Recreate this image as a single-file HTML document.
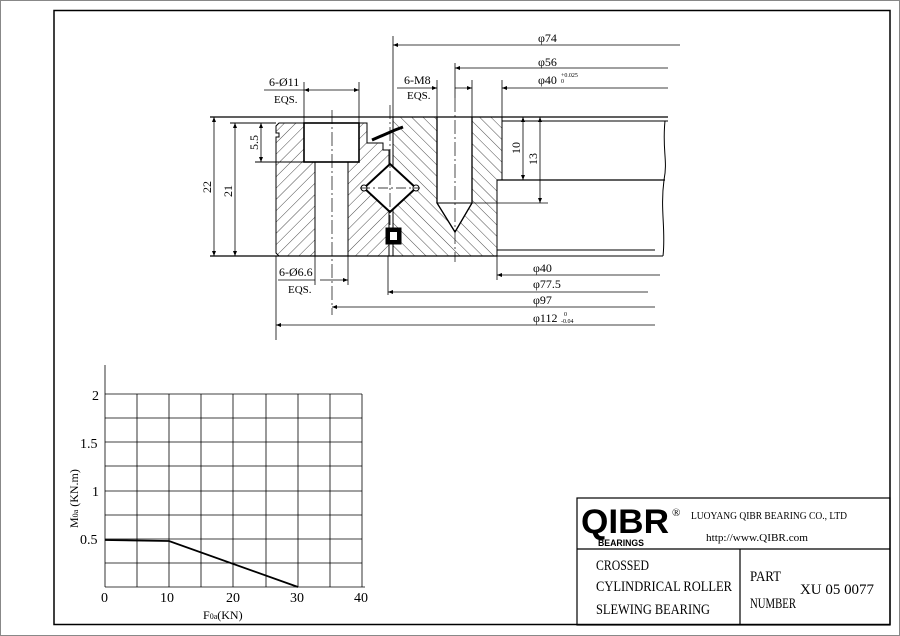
<!DOCTYPE html>
<html><head><meta charset="utf-8"><style>
html,body{margin:0;padding:0;background:#fff}
svg{display:block}
text{fill:#000}
.s{font-family:"Liberation Serif",serif}
.b{font-family:"Liberation Sans",sans-serif;font-weight:bold}
</style></head><body>
<svg width="900" height="636" viewBox="0 0 900 636" xmlns="http://www.w3.org/2000/svg">
<defs>
<pattern id="h1" width="8" height="8" patternUnits="userSpaceOnUse" patternTransform="rotate(45)"><line x1="0" y1="0" x2="0" y2="8" stroke="#000" stroke-width="0.7"/></pattern>
<pattern id="h2" width="8" height="8" patternUnits="userSpaceOnUse" patternTransform="rotate(-45)"><line x1="0" y1="0" x2="0" y2="8" stroke="#000" stroke-width="0.7"/></pattern>
<marker id="a" viewBox="0 0 10 10" refX="10" refY="5" markerWidth="9" markerHeight="5" orient="auto-start-reverse" markerUnits="userSpaceOnUse"><path d="M0,1 L10,5 L0,9 z" fill="#000"/></marker>
</defs>
<rect x="0.5" y="0.5" width="899" height="635" fill="none" stroke="#888"/>
<rect x="54" y="10.5" width="836" height="614" fill="none" stroke="#000" stroke-width="1.5"/>

<g stroke="#000" fill="none" stroke-width="1">
<path d="M279,123 L304,123 L304,162 L315,162 L315,256 L279,256 L276,253 L276,137 L279,137 L279,133 L276,133 L276,126 Z" fill="url(#h1)"/>
<path d="M359,123 L367,123 L367,143 L383,143 L383,150 L389,150 L389,256 L348,256 L348,162 L359,162 Z" fill="url(#h1)"/>
<rect x="304" y="123" width="55" height="39" fill="#fff" stroke-width="1.6"/>
<line x1="315" y1="162" x2="315" y2="256"/><line x1="348" y1="162" x2="348" y2="256"/>
<path d="M393,117 L437,117 L437,203 L455,232 L472,203 L472,117 L502,117 L502,180 L497,180 L497,256 L393,256 Z" fill="url(#h2)"/>
<rect x="437" y="117" width="35" height="86" fill="#fff"/>
<path d="M437,203 L455,232 L472,203 Z" fill="#fff"/>
<path d="M437,117 L437,203 L455,232 L472,203 L472,117" stroke-width="1.3"/>
<line x1="437" y1="203" x2="472" y2="203"/>
<path d="M390,164 L416,188 L390,212 L364,188 Z" fill="#fff" stroke-width="2"/>
<circle cx="364" cy="188" r="3" fill="#fff"/><circle cx="416" cy="188" r="3" fill="#fff"/>
<rect x="386" y="228" width="15" height="16" fill="#000"/>
<rect x="390" y="232" width="7" height="8" fill="#fff" stroke="none"/>
<path d="M372,140 L395,130 L403,127" stroke-width="3"/>
<line x1="502" y1="117" x2="668" y2="117" stroke-width="1.3"/>
<line x1="502" y1="121" x2="668" y2="121"/>
<line x1="497" y1="180" x2="665" y2="180" stroke-width="1.3"/>
<line x1="497" y1="250" x2="655" y2="250"/>
<line x1="497" y1="256" x2="663" y2="256"/>
<path d="M665,121 C662,150 668,160 664,180 C660,210 666,230 663,256"/>
<line x1="210" y1="117" x2="502" y2="117" stroke-width="1.3"/>
<line x1="210" y1="256" x2="497" y2="256" stroke-width="1.3"/>
<line x1="230" y1="123" x2="276" y2="123"/>
<line x1="255" y1="162" x2="304" y2="162"/>
<line x1="332" y1="110" x2="332" y2="315" stroke-dasharray="14,3,2,3" stroke-width="0.7"/>
<line x1="455" y1="98" x2="455" y2="262" stroke-dasharray="14,3,2,3" stroke-width="0.7"/>
<line x1="390" y1="105" x2="390" y2="225" stroke-dasharray="14,3,2,3" stroke-width="0.7"/>
<line x1="360" y1="188" x2="420" y2="188" stroke-dasharray="10,3,2,3" stroke-width="0.7"/>
</g>

<g stroke="#000" stroke-width="0.8" fill="none">
<line x1="393" y1="36" x2="393" y2="117"/>
<line x1="393" y1="45" x2="680" y2="45" marker-start="url(#a)"/>
<line x1="455" y1="63" x2="455" y2="98"/>
<line x1="455" y1="68" x2="668" y2="68" marker-start="url(#a)"/>
<line x1="502" y1="80" x2="502" y2="117"/>
<line x1="502" y1="88" x2="668" y2="88" marker-start="url(#a)"/>
<line x1="437" y1="80" x2="437" y2="117"/><line x1="472" y1="80" x2="472" y2="117"/>
<line x1="397" y1="88" x2="437" y2="88" marker-end="url(#a)"/>
<line x1="472" y1="88" x2="455" y2="88" marker-start="url(#a)"/>
<line x1="304" y1="82" x2="304" y2="123"/><line x1="359" y1="82" x2="359" y2="123"/>
<line x1="264" y1="90" x2="304" y2="90"/>
<line x1="304" y1="90" x2="359" y2="90" marker-start="url(#a)" marker-end="url(#a)"/>
<line x1="497" y1="256" x2="497" y2="280"/>
<line x1="497" y1="275" x2="660" y2="275" marker-start="url(#a)"/>
<line x1="388" y1="256" x2="388" y2="295"/>
<line x1="388" y1="292" x2="648" y2="292" marker-start="url(#a)"/>
<line x1="332" y1="307" x2="655" y2="307" marker-start="url(#a)"/>
<line x1="276" y1="256" x2="276" y2="340"/>
<line x1="276" y1="325" x2="655" y2="325" marker-start="url(#a)"/>
<line x1="315" y1="256" x2="315" y2="285"/><line x1="348" y1="256" x2="348" y2="285"/>
<line x1="278" y1="280" x2="315" y2="280"/>
<line x1="320" y1="280" x2="348" y2="280" marker-end="url(#a)"/>
<line x1="214" y1="117" x2="214" y2="256" marker-start="url(#a)" marker-end="url(#a)"/>
<line x1="235" y1="123" x2="235" y2="256" marker-start="url(#a)" marker-end="url(#a)"/>
<line x1="261" y1="123" x2="261" y2="162" marker-start="url(#a)" marker-end="url(#a)"/>
<line x1="523" y1="117" x2="523" y2="180" marker-start="url(#a)" marker-end="url(#a)"/>
<line x1="540" y1="117" x2="540" y2="203" marker-start="url(#a)" marker-end="url(#a)"/>
<line x1="472" y1="203" x2="548" y2="203"/>
</g>
<g class="s" font-size="12">
<text x="538" y="42">φ74</text>
<text x="538" y="66">φ56</text>
<text x="538" y="84">φ40</text>
<text x="561" y="77" font-size="6">+0.025</text><text x="561" y="83" font-size="6">0</text>
<text x="404" y="84">6-M8</text><text x="407" y="99" font-size="11">EQS.</text>
<text x="269" y="86">6-Ø11</text><text x="274" y="103" font-size="11">EQS.</text>
<text x="533" y="272">φ40</text>
<text x="533" y="288">φ77.5</text>
<text x="533" y="304">φ97</text>
<text x="533" y="322">φ112</text>
<text x="564" y="316" font-size="6">0</text><text x="561" y="323" font-size="6">-0.04</text>
<text x="279" y="276">6-Ø6.6</text><text x="288" y="293" font-size="11">EQS.</text>
<text transform="translate(211,193) rotate(-90)">22</text>
<text transform="translate(232,197) rotate(-90)">21</text>
<text transform="translate(258,150) rotate(-90)">5.5</text>
<text transform="translate(520,154) rotate(-90)">10</text>
<text transform="translate(537,165) rotate(-90)">13</text>
</g>

<g stroke="#000" stroke-width="0.8">
<line x1="105" y1="365" x2="105" y2="587"/>
<line x1="105" y1="587" x2="365" y2="587"/>
<line x1="105" y1="394" x2="362" y2="394"/><line x1="105" y1="418" x2="362" y2="418"/>
<line x1="105" y1="442" x2="362" y2="442"/><line x1="105" y1="466" x2="362" y2="466"/>
<line x1="105" y1="491" x2="362" y2="491"/><line x1="105" y1="515" x2="362" y2="515"/>
<line x1="105" y1="539" x2="362" y2="539"/><line x1="105" y1="563" x2="362" y2="563"/>
<line x1="137" y1="394" x2="137" y2="587"/><line x1="169" y1="394" x2="169" y2="587"/>
<line x1="201" y1="394" x2="201" y2="587"/><line x1="233" y1="394" x2="233" y2="587"/>
<line x1="266" y1="394" x2="266" y2="587"/><line x1="298" y1="394" x2="298" y2="587"/>
<line x1="330" y1="394" x2="330" y2="587"/><line x1="362" y1="394" x2="362" y2="587"/>
<polyline points="105,540 169,541 298,587" fill="none" stroke-width="1.8"/>
</g>
<g class="s" font-size="14">
<text x="92" y="400">2</text><text x="80" y="448">1.5</text>
<text x="92" y="496">1</text><text x="80" y="544">0.5</text>
<text x="101" y="602">0</text><text x="160" y="602">10</text><text x="226" y="602">20</text>
<text x="290" y="602">30</text><text x="354" y="602">40</text>
<text x="203" y="619" font-size="12">F<tspan font-size="8">0a</tspan>(KN)</text>
<text transform="translate(78,528) rotate(-90)" font-size="12">M<tspan font-size="8">0a</tspan> (KN.m)</text>
</g>

<g stroke="#000" stroke-width="1.2" fill="none">
<rect x="577" y="498" width="313" height="127"/>
<line x1="577" y1="549" x2="890" y2="549"/>
<line x1="740" y1="549" x2="740" y2="625"/>
</g>
<text class="b" x="581" y="533" font-size="34" textLength="88" lengthAdjust="spacingAndGlyphs">QIBR</text>
<text class="s" x="672" y="516" font-size="11">®</text>
<text class="b" x="598" y="546" font-size="9" textLength="46" lengthAdjust="spacingAndGlyphs">BEARINGS</text>
<text class="s" x="691" y="519" font-size="11" textLength="156" lengthAdjust="spacingAndGlyphs">LUOYANG QIBR BEARING CO., LTD</text>
<text class="s" x="706" y="541" font-size="11" textLength="102" lengthAdjust="spacingAndGlyphs">http://www.QIBR.com</text>
<g class="s" font-size="15">
<text x="596" y="570" textLength="53" lengthAdjust="spacingAndGlyphs">CROSSED</text>
<text x="596" y="591" textLength="136" lengthAdjust="spacingAndGlyphs">CYLINDRICAL ROLLER</text>
<text x="596" y="614" textLength="114" lengthAdjust="spacingAndGlyphs">SLEWING BEARING</text>
<text x="750" y="581" textLength="31" lengthAdjust="spacingAndGlyphs">PART</text>
<text x="750" y="608" textLength="46" lengthAdjust="spacingAndGlyphs">NUMBER</text>
<text x="800" y="594" textLength="74" lengthAdjust="spacingAndGlyphs">XU 05 0077</text>
</g>
</svg>
</body></html>
